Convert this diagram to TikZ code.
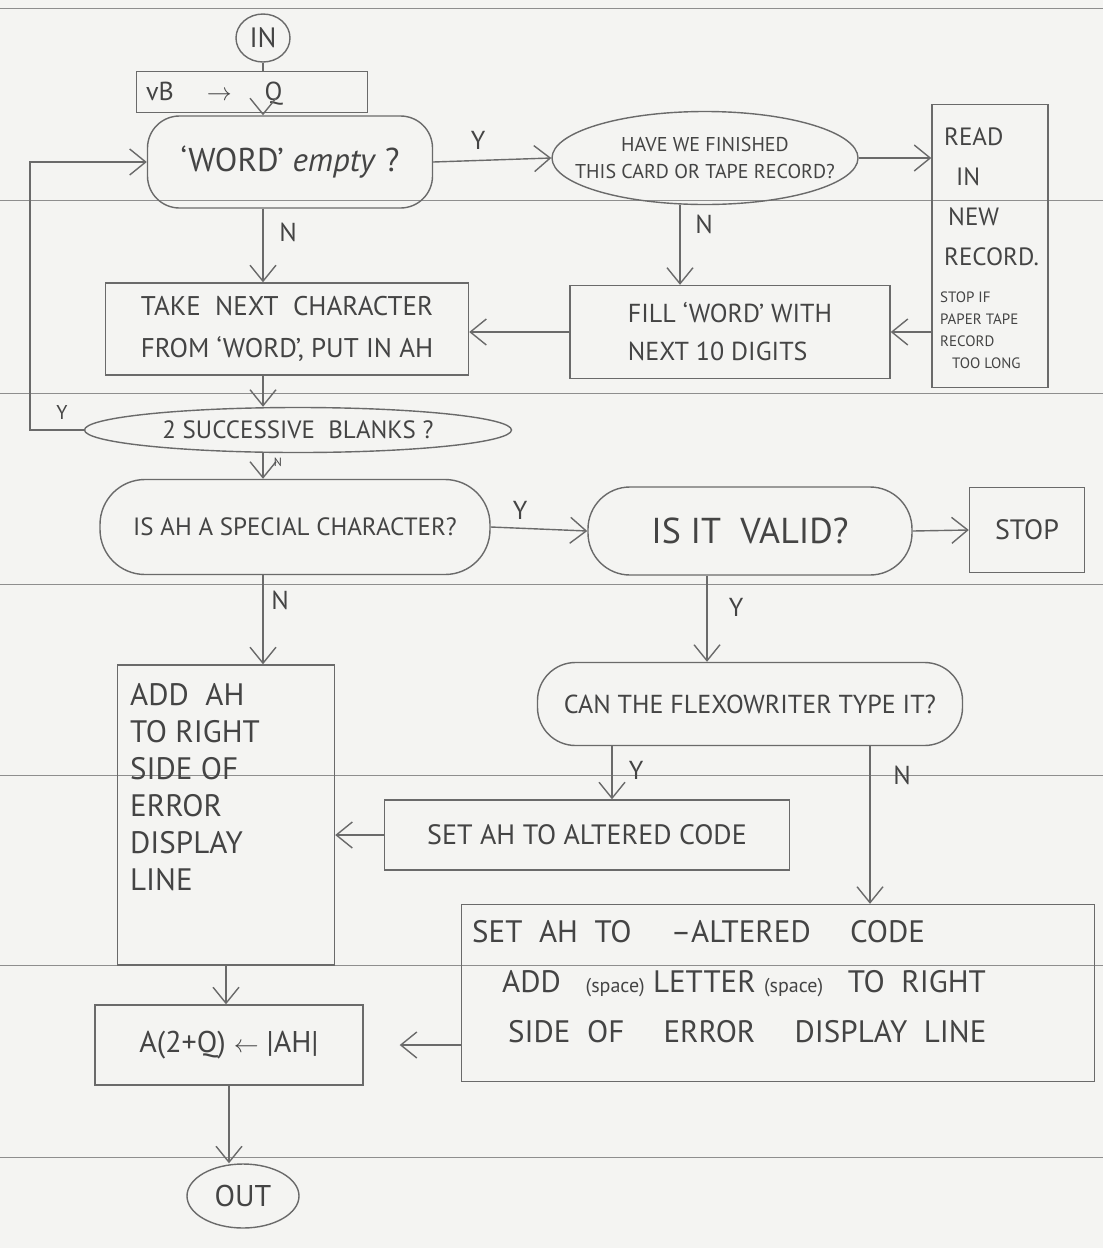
\documentclass[tikz,border=0pt]{standalone}
\usepackage{fontspec}
\setmainfont{PT Sans}
\usetikzlibrary{arrows.meta,shapes.geometric,shapes.misc}

\definecolor{paper}{HTML}{F4F4F2}
\definecolor{pencil}{HTML}{6A6A6A}
\definecolor{lead}{HTML}{444444}
\definecolor{ruling}{HTML}{8E8E8E}

\tikzset{
  sz/.style 2 args={font=\fontsize{#1}{#2}\selectfont},
  box/.style={draw=pencil, line width=1.4pt, inner sep=0pt, text=lead, align=center},
  stad/.style={box, rounded corners=#1},
  oval/.style={box, ellipse},
  txt/.style={text=lead, inner sep=0pt, align=left},
  lbl/.style={text=lead, inner sep=0pt, font=\fontsize{26}{30}\selectfont},
  link/.style={draw=pencil, line width=1.4pt},
  flow/.style={link, -{Straight Barb[length=16pt,width=26pt,line width=1.4pt]}},
  ruleline/.style={draw=ruling, line width=0.9pt},
}

\begin{document}
\begin{tikzpicture}[x=1pt,y=-1pt]
  % sheet of ruled paper
  \fill[paper] (0,0) rectangle (1103,1248);
  \useasboundingbox (0,0) rectangle (1103,1248);
  \foreach \yy in {8,200,393,584,775,965,1157}
    \draw[ruleline] (0,\yy) -- (1103,\yy);

  % ---------- top row ----------
  \node[oval, minimum width=54, minimum height=48, sz={28}{32}] (in) at (263,38) {IN};
  \node[box, minimum width=231, minimum height=41] (init) at (252,92) {};
  \node[txt, anchor=west, sz={26}{30}] (inittxt) at (146,94) {vB \quad $\rightarrow$ \quad Q};

  \node[stad=32, minimum width=285, minimum height=92, sz={33}{36}] (word) at (290,162)
    {‘WORD’ \textit{empty} ?};
  \node[oval, minimum width=306, minimum height=93] (have) at (705,158) {};
  \node[txt, align=center, sz={20}{27}] (havetxt) at (have.center)
    {HAVE WE FINISHED\\THIS CARD OR TAPE RECORD?};
  \node[box, minimum width=116, minimum height=283] (read) at (990,246) {};
  \node[txt, anchor=north west, sz={25}{40}] (readtxt) at (944,128)
    {READ\\\hspace{12pt}IN\\\hspace{4pt}NEW\\RECORD.};
  \node[txt, anchor=north west, sz={15}{22}] (readsub) at (940,292)
    {STOP IF\\PAPER TAPE\\RECORD\\\hspace{12pt}TOO LONG};

  % ---------- second row ----------
  \node[box, minimum width=363, minimum height=92, sz={27}{42}] (take) at (287,329)
    {TAKE \ NEXT \ CHARACTER\\FROM ‘WORD’, PUT IN AH};
  \node[box, minimum width=320, minimum height=93, sz={26}{38}, align=left] (fill) at (730,332)
    {FILL ‘WORD’ WITH\\NEXT 10 DIGITS};

  \node[oval, minimum width=427, minimum height=45, sz={25}{28}] (blanks) at (298,430)
    {2 SUCCESSIVE \ BLANKS ?};

  % ---------- third row ----------
  \node[stad=45, minimum width=390, minimum height=95, sz={25}{28}] (isah) at (295,527)
    {IS AH A SPECIAL CHARACTER?};
  \node[stad=42, minimum width=324, minimum height=88, sz={36}{40}] (valid) at (750,531)
    {IS IT \ VALID?};
  \node[box, minimum width=115, minimum height=85, sz={28}{30}] (stop) at (1027,530) {STOP};

  % ---------- lower part ----------
  \node[stad=38, minimum width=425, minimum height=83, sz={26}{30}] (can) at (750,704)
    {CAN THE FLEXOWRITER TYPE IT?};
  \node[box, minimum width=217, minimum height=300] (add) at (226,815) {};
  \node[txt, anchor=north west, sz={31}{37}] (addtxt) at (130,683)
    {ADD \ AH\\TO RIGHT\\SIDE OF\\ERROR\\DISPLAY\\LINE};
  \node[box, minimum width=405, minimum height=70, sz={28}{32}] (set) at (587,835)
    {SET AH TO ALTERED CODE};
  \node[box, minimum width=633, minimum height=177] (setneg) at (778,993) {};
  \node[txt, anchor=north west, sz={31}{50}] (setnegtxt) at (472,920)
    {SET \ AH \ TO \quad --ALTERED \quad CODE\\
     \hspace{30pt}ADD \ \ {\fontsize{20}{22}\selectfont(space)} LETTER {\fontsize{20}{22}\selectfont(space)} \ \ TO \ RIGHT\\
     \hspace{36pt}SIDE \ OF \quad ERROR \quad DISPLAY \ LINE};
  \node[box, minimum width=268, minimum height=80, sz={30}{34}] (abox) at (229,1045)
    {A(2+Q) $\leftarrow$ |AH|};
  \node[oval, minimum width=112, minimum height=64, sz={30}{34}] (out) at (243,1196) {OUT};

  % ---------- connectors ----------
  \draw[link] (in) -- (in |- init.north);
  \draw[flow] (init.south -| in) -- (in |- word.north);

  \draw[flow] (word.east) -- (have.west);
  \node[lbl] (ywh) at (478,140) {Y};
  \draw[flow] (have.east) -- (have.east -| read.west);

  \draw[flow] ([xshift=-25pt]have.south) -- ([xshift=-25pt]have.south |- fill.north);
  \node[lbl] (nhf) at (704,224) {N};
  \draw[flow] (read.west |- fill.east) -- (fill.east);
  \draw[flow] (fill.west) -- (fill.west -| take.east);

  \draw[flow] (in |- word.south) -- (in |- take.north);
  \node[lbl] (nwt) at (288,232) {N};
  \draw[flow] (in |- take.south) -- (in |- blanks.north);

  % two blanks in a row: back to the test for an empty word
  \coordinate (loopx) at (30,0);
  \draw[flow] (blanks.west) -- (blanks.west -| loopx) -- (loopx |- word.west) -- (word.west);
  \node[lbl, font=\fontsize{20}{24}\selectfont] (ybl) at (62,412) {Y};

  \draw[flow] (in |- blanks.south) -- (in |- isah.north);
  \node[lbl, font=\fontsize{12}{14}\selectfont] (nbl) at (278,462) {N};

  \draw[flow] (isah.east) -- (valid.west);
  \node[lbl] (yiv) at (520,510) {Y};
  \draw[flow] (valid.east) -- (stop.west);

  \draw[flow] (in |- isah.south) -- (in |- add.north);
  \node[lbl] (nia) at (280,600) {N};

  \draw[flow] ([xshift=-43pt]valid.south) -- ([xshift=-43pt]valid.south |- can.north);
  \node[lbl] (yvc) at (736,607) {Y};

  \draw[flow] ([xshift=-138pt]can.south) -- ([xshift=-138pt]can.south |- set.north);
  \node[lbl] (ycs) at (636,770) {Y};
  \draw[flow] (set.west) -- (set.west -| add.east);

  \draw[flow] ([xshift=120pt]can.south) -- ([xshift=120pt]can.south |- setneg.north);
  \node[lbl] (ncs) at (902,775) {N};

  \draw[flow, shorten >=36pt] (setneg.west |- abox.east) -- (abox.east);
  \draw[flow] (add.south) -- (add.south |- abox.north);
  \draw[flow] (abox.south) -- (abox.south |- out.north);
\end{tikzpicture}
\end{document}
